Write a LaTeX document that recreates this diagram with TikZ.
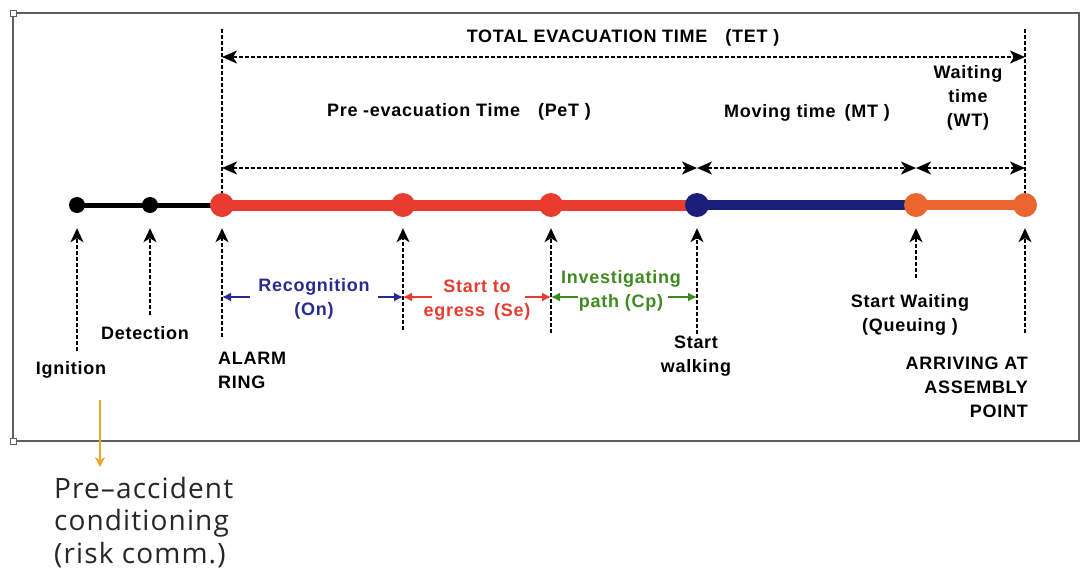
\documentclass[tikz,border=0pt]{standalone}
\usepackage{fontspec}
\setmainfont{Liberation Sans}
\newfontfamily\lblfont[LetterSpace=4]{Liberation Sans}
\newfontfamily\notefont[LetterSpace=4]{Open Sans}
\usepackage{tikz}
\usetikzlibrary{arrows.meta,calc,backgrounds}
\usepackage{xcolor}
\definecolor{alarmred}{RGB}{232,60,48}
\definecolor{movenavy}{RGB}{26,30,122}
\definecolor{waitorange}{RGB}{234,102,46}
\definecolor{cpgreen}{RGB}{62,138,32}
\definecolor{onblue}{RGB}{40,42,140}
\definecolor{noteorange}{RGB}{240,164,40}
\definecolor{framegray}{RGB}{95,95,95}
\tikzstyle{tline}=[
  x=1pt,y=-1pt,font=\lblfont\bfseries\fontsize{18}{24}\selectfont
]
\tikzstyle{smalldot}=[
  circle,inner sep=0pt,fill=black,minimum size=16pt
]
\tikzstyle{bigdot}=[
  circle,inner sep=0pt,minimum size=24pt
]
\tikzstyle{guide}=[
  line width=1.3pt,dash pattern=on 4pt off 2pt
]
\tikzstyle{dimline}=[
  guide,{Stealth[length=15pt,width=13pt,inset=4pt]}-{Stealth[length=15pt,width=13pt,inset=4pt]}
]
\tikzstyle{upline}=[
  guide,-{Stealth[length=14pt,width=13pt,inset=4pt]}
]
\tikzstyle{spanarrow}=[
  line width=1.3pt,-{Latex[length=9pt,width=9pt]}
]
\tikzstyle{lbl}=[
  align=center,inner sep=1pt
]
\tikzstyle{handle}=[
  draw=framegray,fill=white,line width=1pt,inner sep=0pt,minimum size=6pt
]

\begin{document}
\begin{tikzpicture}[tline]
  \useasboundingbox (0,0) rectangle (1081,574);
  \draw [framegray,line width=1.6pt] (13,13) rectangle (1079,441);
  \node (hTop) at (13,13) [handle] {};
  \node (hBot) at (13,441) [handle] {};

  % events on the time line
  \node (ign) at (77,205) [smalldot] {};
  \node (det) at (150,205) [smalldot] {};
  \node (alarm) at (222,205) [bigdot,fill=alarmred] {};
  \node (egress) at (403,205) [bigdot,fill=alarmred] {};
  \node (path) at (551,205) [bigdot,fill=alarmred] {};
  \node (walk) at (697,205) [bigdot,fill=movenavy] {};
  \node (wait) at (916,205) [bigdot,fill=waitorange] {};
  \node (arrive) at (1025,205) [bigdot,fill=waitorange] {};
  \begin{scope}[on background layer]
    \draw [line width=5pt] (ign.center) -- (alarm.center);
    \draw [line width=11pt,alarmred] (alarm.center) -- (walk.center);
    \draw [line width=10pt,movenavy] (walk.center) -- (wait.center);
    \draw [line width=10pt,waitorange] (wait.center) -- (arrive.center);
  \end{scope}

  % time spans above
  \coordinate (tetL) at (222,29);
  \coordinate (tetR) at (1025,29);
  \draw [guide] (tetL) -- (alarm.north);
  \draw [guide] (tetR) -- (arrive.north);
  \coordinate (tetA) at (222,57);
  \coordinate (tetB) at (1025,57);
  \draw [dimline] (tetA) -- (tetB);
  \coordinate (petA) at (222,168);
  \coordinate (petB) at (697,168);
  \coordinate (mtB) at (916,168);
  \coordinate (wtB) at (1025,168);
  \draw [dimline] (petA) -- (petB);
  \draw [dimline] (petB) -- (mtB);
  \draw [dimline] (mtB) -- (wtB);
  \node (tet) at (623,38) {TOTAL EVACUATION TIME\quad(TET )};
  \node (pet) at (459,112) {Pre -evacuation Time\quad(PeT )};
  \node (mt) at (807,113) {Moving time\enspace(MT )};
  \node (wt) at (968,98) [lbl] {Waiting\\time\\(WT)};

  % events below
  \coordinate (ignB) at (77,351);
  \coordinate (detB) at (150,315);
  \coordinate (alarmB) at (222,337);
  \coordinate (egressB) at (403,330);
  \coordinate (pathB) at (551,333);
  \coordinate (walkB) at (697,334);
  \coordinate (waitB) at (916,278);
  \coordinate (arriveB) at (1025,333);
  \draw [upline,shorten >=15pt] (ignB) -- (ign.south);
  \draw [upline,shorten >=15pt] (detB) -- (det.south);
  \draw [upline,shorten >=11pt] (alarmB) -- (alarm.south);
  \draw [upline,shorten >=11pt] (egressB) -- (egress.south);
  \draw [upline,shorten >=11pt] (pathB) -- (path.south);
  \draw [upline,shorten >=11pt] (walkB) -- (walk.south);
  \draw [upline,shorten >=11pt] (waitB) -- (wait.south);
  \draw [upline,shorten >=11pt] (arriveB) -- (arrive.south);
  \node (ignL) at (71,370) {Ignition};
  \node (detL) at (145,333) {Detection};
  \node (alarmL) at (217,370) [lbl,anchor=west,align=left] {ALARM\\RING};
  \node (walkL) at (696,356) [lbl] {Start\\walking};
  \node (waitL) at (910,315) [lbl] {Start Waiting\\(Queuing )};
  \node (arriveL) at (1029,387) [lbl,anchor=east,align=right] {ARRIVING AT\\ASSEMBLY\\POINT};

  % phases between the events
  \node (recog) at (314,299) [lbl,onblue] {Recognition\\(On)};
  \node (se) at (477,300) [lbl,alarmred] {Start to\\egress\enspace(Se)};
  \node (cp) at (621,291) [lbl,cpgreen] {Investigating\\path (Cp)};
  \coordinate (recogA) at (250,297);
  \coordinate (recogB) at (378,297);
  \coordinate (seA) at (432,297);
  \coordinate (seB) at (525,297);
  \coordinate (cpA) at (578,297);
  \coordinate (cpB) at (668,297);
  \draw [spanarrow,onblue] (recogA) -- (recogA -| alarm);
  \draw [spanarrow,onblue] (recogB) -- (recogB -| egress);
  \draw [spanarrow,alarmred] (seA) -- (seA -| egress);
  \draw [spanarrow,alarmred] (seB) -- (seB -| path);
  \draw [spanarrow,cpgreen] (cpA) -- (cpA -| path);
  \draw [spanarrow,cpgreen] (cpB) -- (cpB -| walk);

  % note under the frame
  \coordinate (noteTop) at (100,400);
  \node (note) at (54,477) [anchor=north west,inner sep=0pt,align=left,
    font=\notefont\fontsize{28}{32.5}\selectfont,text=black!85] {Pre–accident\\conditioning\\(risk comm.)};
  \draw [noteorange,line width=1.2pt,-{Stealth[length=10pt,width=10pt]},shorten >=10pt]
    (noteTop) -- (noteTop |- note.north);
\end{tikzpicture}
\end{document}
